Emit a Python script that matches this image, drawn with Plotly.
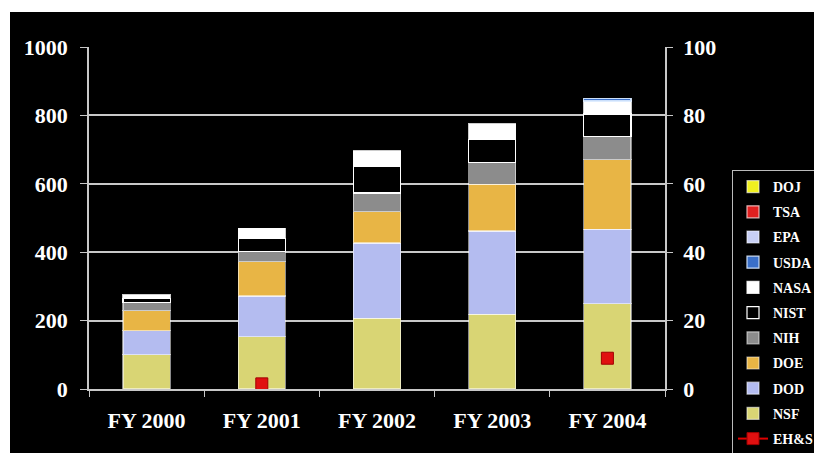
import plotly.graph_objects as go

years = ["FY 2000", "FY 2001", "FY 2002", "FY 2003", "FY 2004"]

# stacked segment heights (left axis), bottom to top
nsf = [100, 153, 207, 218, 250]
dod = [70, 119, 220, 244, 217]
doe = [59, 100, 91, 137, 203]
nih = [23, 29, 55, 63, 68]
nist = [12, 38, 79, 68, 66]
nasa = [11, 31, 45, 45, 38]
usda = [None, None, None, None, 8]
epa = [None, None, None, None, None]
tsa = [None, None, None, None, None]
doj = [None, None, None, None, None]

# EH&S on right axis
ehs = [None, 1.5, None, None, 9]

series = [
    ("NSF", nsf, "#D9D574", "rgba(255,255,255,0.55)", 10),
    ("DOD", dod, "#B4BCF0", "rgba(255,255,255,0.55)", 9),
    ("DOE", doe, "#E8B545", "rgba(255,255,255,0.55)", 8),
    ("NIH", nih, "#8C8C8C", "rgba(255,255,255,0.55)", 7),
    ("NIST", nist, "#000000", "#FFFFFF", 6),
    ("NASA", nasa, "#FFFFFF", "rgba(255,255,255,0.8)", 5),
    ("USDA", usda, "#3A6FC8", "rgba(220,235,255,0.9)", 4),
    ("EPA", epa, "#C8D0F5", "rgba(255,255,255,0.6)", 3),
    ("TSA", tsa, "#E02020", "rgba(255,220,220,0.8)", 2),
    ("DOJ", doj, "#F0F020", "rgba(255,255,255,0.6)", 1),
]

fig = go.Figure()
for name, vals, col, lcol, rank in series:
    fig.add_trace(go.Bar(
        x=years, y=vals, name=name, legendrank=rank, legendgroup=name,
        marker=dict(color=col, line=dict(color=lcol, width=1.2)),
    ))

fig.add_trace(go.Scatter(
    x=years, y=ehs, name="EH&S", yaxis="y2", legendrank=11, legendgroup="EH&S",
    mode="lines+markers", connectgaps=False,
    line=dict(color="#E00000", width=2),
    marker=dict(symbol="square", size=12, color="#E01010",
                line=dict(color="#A00000", width=1)),
))

axis_font = dict(family="Liberation Serif", size=22, color="white", weight="bold")
grid_col = "#C8C8C8"

# the page body has an 8 px margin; the figure is sized to fill the rest
W, H = 814, 445
L, T, R, B = 81, 39, 157, 64
plot_h = H - T - B

fig.update_layout(
    width=W, height=H,
    margin=dict(l=L, r=R, t=T, b=B, autoexpand=False),
    paper_bgcolor="black", plot_bgcolor="black",
    barmode="stack", bargap=0.59,
    showlegend=True,
    legend=dict(
        x=(724 - L) / (W - L - R), y=(H - B - 162) / plot_h,
        xanchor="left", yanchor="top",
        bgcolor="black", bordercolor="#BBBBBB", borderwidth=1,
        font=dict(family="Liberation Serif", size=14, color="white", weight="bold"),
        traceorder="grouped", tracegroupgap=4,
    ),
    xaxis=dict(
        showgrid=False, showline=True, linecolor=grid_col, linewidth=1.5,
        ticks="outside", tickson="boundaries", ticklen=6, tickcolor=grid_col,
        tickfont=axis_font, ticklabelstandoff=11, automargin=False,
    ),
    yaxis=dict(
        range=[0, 1000], dtick=200, showgrid=True, gridcolor=grid_col, gridwidth=1.5,
        showline=True, linecolor=grid_col, linewidth=1.5,
        ticks="outside", ticklen=7, tickcolor=grid_col,
        tickfont=axis_font, ticklabelstandoff=8, zeroline=False, automargin=False,
    ),
    yaxis2=dict(
        range=[0, 100], dtick=20, overlaying="y", side="right",
        showgrid=False, showline=True, linecolor=grid_col, linewidth=1.5,
        ticks="outside", ticklen=6, tickcolor=grid_col,
        tickfont=axis_font, ticklabelstandoff=6, zeroline=False, automargin=False,
    ),
    shapes=[
        dict(type="rect", xref="paper", yref="paper", layer="below",
             x0=-0.3, x1=(2 - L) / (W - L - R), y0=-0.3, y1=1.3,
             fillcolor="white", line=dict(width=0)),
        dict(type="rect", xref="paper", yref="paper", layer="below",
             x0=-0.3, x1=1.4, y0=(H - B - 4) / plot_h, y1=1.3,
             fillcolor="white", line=dict(width=0)),
    ],
)

fig.write_html("out.html")
